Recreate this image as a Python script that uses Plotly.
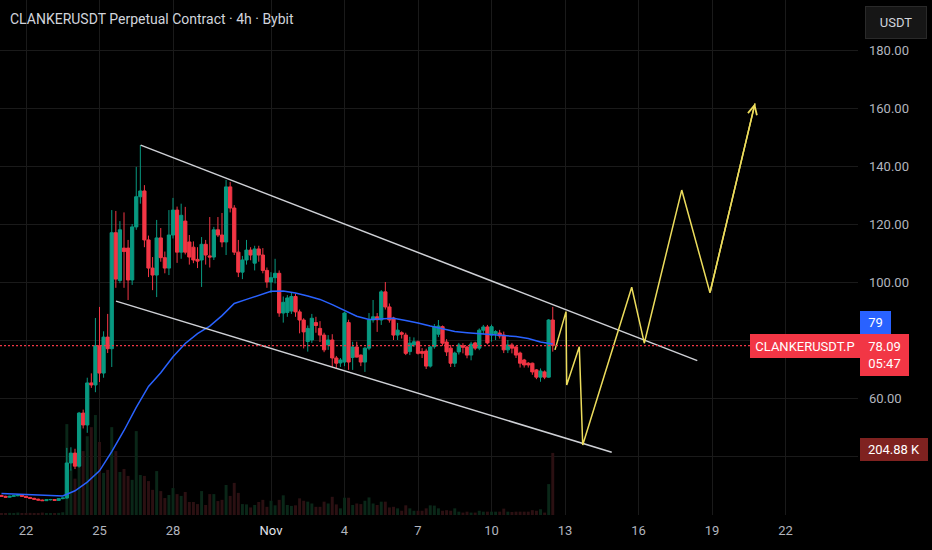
import pandas as pd
import plotly.graph_objects as go

# CLANKERUSDT perpetual, 4h candles from 21 Oct 2025
first_candle = "2025-10-21 00:00"

opens = [26.4, 26.1, 25.8, 26.1, 26.3, 26.5, 26.1, 25.7, 25.4, 25.1, 24.8, 24.6, 24.9, 25.0, 24.7, 25.3,
         25.5, 37.6, 41.0, 36.5, 54.8, 50.7, 65.2, 64.5, 78.0, 68.6, 81.0, 77.0, 117.0, 100.5, 111.7, 111.7,
         100.7, 119.0, 129.4, 131.4, 114.5, 104.8, 102.4, 115.2, 108.4, 104.8, 116.2, 124.8, 110.3, 121.0, 113.8, 112.0,
         107.8, 107.6, 113.0, 109.0, 108.6, 118.0, 116.2, 113.8, 132.8, 125.5, 110.3, 103.4, 107.6, 111.0, 106.5, 111.4,
         109.3, 104.0, 100.0, 101.5, 103.0, 89.3, 89.5, 90.0, 95.0, 89.7, 86.9, 79.5, 80.0, 86.0, 84.0, 81.7,
         78.3, 80.0, 73.8, 72.1, 72.4, 86.0, 74.0, 77.6, 74.8, 72.4, 77.2, 86.9, 88.0, 86.9, 96.6, 91.4,
         87.6, 81.7, 82.5, 81.7, 76.0, 78.3, 79.4, 76.0, 76.2, 71.0, 77.7, 82.0, 84.6, 79.3, 77.2, 72.0,
         75.9, 78.0, 77.6, 74.8, 79.0, 77.2, 83.4, 84.5, 81.7, 82.2, 82.4, 81.7, 76.6, 78.3, 77.6, 75.5,
         73.1, 72.0, 72.0, 69.7, 67.2, 69.0, 67.2, 86.9]
highs = [26.6, 26.3, 26.3, 26.5, 26.8, 26.6, 26.2, 25.9, 25.6, 25.3, 25.0, 25.0, 25.2, 25.1, 25.4, 25.7,
         42.8, 43.0, 42.5, 55.2, 56.0, 67.0, 68.5, 87.6, 91.4, 83.0, 89.0, 124.8, 124.5, 121.0, 124.0, 114.5,
         120.0, 139.7, 147.2, 133.4, 116.0, 108.6, 121.4, 118.6, 110.5, 124.8, 129.0, 126.0, 127.0, 125.9, 116.2, 114.0,
         112.0, 115.5, 114.5, 122.4, 119.0, 122.4, 123.8, 135.2, 134.5, 126.5, 114.5, 109.0, 114.5, 112.0, 112.5, 112.5,
         111.7, 105.0, 103.4, 108.0, 104.0, 95.0, 95.5, 96.5, 96.0, 90.5, 87.5, 85.0, 89.0, 88.0, 86.5, 82.5,
         81.7, 82.0, 74.5, 73.8, 89.7, 87.0, 79.4, 79.4, 75.0, 77.5, 89.3, 93.8, 89.3, 97.2, 100.0, 92.6,
         88.0, 85.9, 83.0, 82.5, 81.1, 80.9, 79.8, 77.2, 77.0, 78.0, 85.5, 86.9, 85.0, 80.3, 78.3, 76.0,
         79.0, 78.9, 78.0, 79.4, 79.4, 84.0, 85.2, 85.2, 85.3, 83.4, 83.5, 82.9, 80.0, 79.0, 78.0, 76.0,
         73.5, 72.4, 72.2, 70.0, 70.2, 69.5, 87.2, 91.4]
lows = [26.0, 25.7, 25.7, 26.0, 26.1, 26.0, 25.6, 25.3, 25.0, 24.7, 24.5, 24.5, 24.7, 24.6, 24.6, 25.1,
        25.3, 35.0, 35.5, 36.0, 49.5, 48.0, 63.5, 62.0, 65.5, 67.0, 75.5, 70.7, 98.0, 99.6, 98.0, 93.8,
        99.0, 118.0, 127.0, 112.0, 101.7, 97.2, 94.8, 107.0, 103.0, 102.4, 115.0, 106.6, 108.0, 109.5, 106.0, 106.5,
        104.8, 98.3, 106.0, 105.0, 107.6, 115.5, 112.0, 109.3, 124.0, 109.3, 101.7, 101.0, 106.0, 107.5, 104.0, 107.0,
        103.0, 98.0, 96.2, 99.5, 88.0, 86.0, 88.0, 89.0, 88.0, 82.3, 77.1, 76.0, 79.0, 82.5, 79.3, 75.8,
        76.6, 70.7, 70.0, 70.7, 71.0, 69.7, 69.7, 74.0, 71.0, 69.0, 76.5, 86.0, 82.8, 85.2, 90.5, 86.0,
        80.0, 80.0, 80.5, 74.8, 74.8, 77.6, 75.0, 73.8, 70.0, 70.5, 77.0, 81.0, 78.0, 74.5, 70.7, 70.7,
        75.0, 75.4, 73.7, 73.0, 76.5, 76.5, 82.0, 78.5, 79.4, 80.0, 80.5, 75.5, 75.5, 75.4, 73.8, 70.5,
        70.5, 70.5, 68.0, 66.5, 65.6, 66.5, 67.0, 76.0]
closes = [26.1, 25.8, 26.1, 26.3, 26.5, 26.1, 25.7, 25.4, 25.1, 24.8, 24.6, 24.9, 25.0, 24.7, 25.3, 25.5,
          37.6, 41.0, 36.5, 54.8, 50.7, 65.2, 64.5, 78.0, 68.6, 81.0, 77.0, 117.0, 101.0, 118.0, 110.5, 100.7,
          119.0, 129.4, 131.4, 114.5, 104.8, 102.4, 115.2, 108.4, 104.8, 116.2, 124.8, 110.3, 123.0, 110.3, 108.6, 107.6,
          107.2, 113.0, 109.3, 108.6, 118.0, 116.2, 113.8, 132.8, 125.5, 110.3, 103.4, 107.6, 111.0, 109.3, 111.4, 109.3,
          104.0, 100.0, 101.5, 103.0, 89.3, 93.0, 94.5, 95.0, 89.7, 86.9, 82.8, 84.0, 87.5, 85.0, 81.7, 76.6,
          80.0, 73.8, 72.0, 73.1, 89.3, 72.4, 77.6, 74.1, 72.4, 77.2, 86.9, 88.0, 87.0, 96.6, 91.4, 86.9,
          81.7, 83.4, 82.0, 75.4, 78.9, 79.4, 75.4, 75.4, 71.0, 77.6, 84.6, 84.8, 78.9, 75.9, 72.0, 75.5,
          78.3, 77.5, 74.8, 78.6, 77.2, 83.4, 84.5, 79.0, 84.6, 82.9, 81.4, 76.6, 78.3, 77.2, 74.8, 72.0,
          71.4, 71.4, 69.0, 67.2, 69.3, 67.2, 86.9, 78.09]
volumes_k = [6, 5, 7, 6, 8, 5, 6, 7, 5, 6, 8, 5, 6, 5, 7, 9,
             300, 150, 120, 280, 211, 260, 290, 330, 241, 139, 149, 290, 211, 142, 152, 129,
             116, 277, 132, 129, 112, 83, 145, 79, 56, 66, 89, 69, 63, 76, 43, 43,
             36, 79, 33, 69, 69, 46, 50, 99, 63, 106, 73, 36, 35, 25, 33, 43,
             50, 27, 47, 32, 50, 65, 33, 30, 32, 55, 47, 44, 38, 27, 27, 44,
             38, 60, 35, 22, 57, 57, 33, 38, 36, 47, 58, 38, 33, 44, 44, 25,
             27, 22, 14, 32, 22, 14, 14, 14, 22, 32, 31, 22, 14, 16, 14, 22,
             11, 8, 11, 8, 8, 14, 11, 11, 11, 11, 11, 21, 11, 10, 11, 11,
             11, 11, 16, 14, 19, 8, 102, 204.88]

# moving average, read at every third candle
ma_values = [27.1, 26.9, 26.7, 26.5, 26.3, 26.2, 28.0, 31.0, 34.9, 41.5, 48.8, 56.8, 64.0, 68.7, 74.2, 78.8,
             82.2, 84.8, 88.4, 92.6, 94.0, 95.5, 96.8, 96.9, 96.2, 95.2, 94.0, 92.2, 90.2, 88.2, 87.1, 87.4,
             87.5, 86.7, 85.9, 84.8, 83.8, 82.9, 82.5, 82.2, 82.0, 81.7, 81.2, 80.5, 79.3, 78.6]

upper_channel_x = ["2025-10-26 16:20", "2025-11-18 09:36"]
upper_channel_y = [147.2, 72.9]
lower_channel_x = ["2025-10-25 16:10", "2025-11-14 21:45"]
lower_channel_y = [93.4, 41.3]

forecast_x = ["2025-11-12 14:10", "2025-11-13 01:00", "2025-11-13 01:40", "2025-11-13 14:00",
              "2025-11-13 17:20", "2025-11-15 17:20", "2025-11-16 05:40", "2025-11-17 18:20",
              "2025-11-18 22:00", "2025-11-20 18:07"]
forecast_y = [76.6, 89.8, 64.5, 77.7, 43.8, 98.2, 78.9, 131.7, 96.3, 161.6]

date_ticks = ["2025-10-22", "2025-10-25", "2025-10-28", "2025-11-01", "2025-11-04", "2025-11-07",
              "2025-11-10", "2025-11-13", "2025-11-16", "2025-11-19", "2025-11-22"]
date_labels = ["22", "25", "28", "Nov", "4", "7", "10", "13", "16", "19", "22"]
price_ticks = [40, 60, 80, 100, 120, 140, 160, 180]
price_labels = ["", "60.00", "", "100.00", "120.00", "140.00", "160.00", "180.00"]

countdown = "05:47"
symbol = "CLANKERUSDT.P"

GREEN = "#089981"
RED = "#f23645"
YELLOW = "#ecdc5c"
PLOT_W, PLOT_H = 858, 515


def px_x(px):
    return px / PLOT_W


def px_y(py):
    return 1 - py / PLOT_H


dates = pd.date_range(first_candle, periods=len(closes), freq="4h")
vol_colors = ["#0a2718" if c >= o else "#2b1012" for o, c in zip(opens, closes)]

fig = go.Figure()
fig.add_trace(go.Bar(x=dates, y=volumes_k, marker=dict(color=vol_colors, line=dict(width=0)),
                     width=4 * 3600 * 1000 * 0.72, yaxis="y", hoverinfo="skip"))
fig.add_trace(go.Candlestick(
    x=dates, open=opens, high=highs, low=lows, close=closes, yaxis="y2",
    increasing=dict(line=dict(color=GREEN, width=1), fillcolor=GREEN),
    decreasing=dict(line=dict(color=RED, width=1), fillcolor=RED),
))
fig.add_trace(go.Scatter(x=dates[::3], y=ma_values, yaxis="y2", mode="lines",
                         line=dict(color="#2962ff", width=1.5)))
for cx, cy in [(upper_channel_x, upper_channel_y), (lower_channel_x, lower_channel_y)]:
    fig.add_trace(go.Scatter(x=cx, y=cy, yaxis="y2", mode="lines",
                             line=dict(color="#cfd1d6", width=1.5)))
fig.add_trace(go.Scatter(x=forecast_x, y=forecast_y, yaxis="y2", mode="lines",
                         line=dict(color=YELLOW, width=1.5)))

ticktext = ['<span style="color:#e0e3eb">%s</span>' % t if t == "Nov" else t for t in date_labels]

fig.update_layout(
    width=932, height=550,
    margin=dict(l=0, r=932 - PLOT_W, t=0, b=550 - PLOT_H),
    paper_bgcolor="#000000", plot_bgcolor="#000000",
    font=dict(family="Roboto, 'Noto Sans', sans-serif", size=13, color="#b2b5be"),
    showlegend=False,
    boxgap=0.12, boxgroupgap=0.1,
    xaxis=dict(type="date", range=["2025-10-20 22:32", "2025-11-24 23:00"],
               rangeslider=dict(visible=False), tickvals=date_ticks, ticktext=ticktext,
               showgrid=True, gridcolor="#1a1a1a", zeroline=False, ticks="", ticklabelstandoff=6),
    yaxis=dict(range=[0, 1700], visible=False),
    yaxis2=dict(overlaying="y", side="right", range=[19.66, 197.24],
                tickvals=price_ticks, ticktext=price_labels, showgrid=True, gridcolor="#1a1a1a",
                zeroline=False, ticks="", ticklabelstandoff=10),
)

# last-price dotted line
fig.add_shape(type="line", xref="paper", x0=0, x1=px_x(750), yref="y2", y0=closes[-1], y1=closes[-1],
              line=dict(color=RED, width=1.2, dash="2px,2px"))

# arrow head of the projected path
fig.add_annotation(x=forecast_x[-1], y=forecast_y[-1], ax=forecast_x[-2], ay=forecast_y[-2],
                   xref="x", yref="y2", axref="x", ayref="y2", text="", showarrow=True,
                   arrowhead=5, arrowsize=1.2, arrowwidth=1.5, arrowcolor=YELLOW, standoff=0)

fig.add_annotation(text="CLANKERUSDT Perpetual Contract · 4h · Bybit", xref="paper", yref="paper",
                   x=px_x(8), y=px_y(19), xanchor="left", yanchor="middle", showarrow=False,
                   font=dict(size=14, color="#d1d4dc"))


def axis_box(text, cx, cy, w, h, bg, color="#ffffff", border=None):
    fig.add_annotation(text=text, xref="paper", yref="paper", x=px_x(cx), y=px_y(cy),
                       xanchor="center", yanchor="middle", showarrow=False, width=w, height=h,
                       bgcolor=bg, borderpad=0, bordercolor=border or bg, borderwidth=1,
                       font=dict(size=13, color=color))


axis_box("USDT", 896, 22.5, 60, 31, "#161616", color="#d1d4dc", border="#2a2a2a")
axis_box(str(round(ma_values[-1])), 875.5, 322.5, 29, 21, "#2962ff")
axis_box(f"{closes[-1]:.2f}<br>{countdown}", 884.5, 354.5, 47, 40, RED)
axis_box(symbol, 804.5, 345.5, 108, 22, RED)
axis_box(f"{volumes_k[-1]:.2f} K", 894, 449.5, 66, 21, "#7f2220")

# page body has a default 8px margin; drop it so the chart fills the window
fig.write_html("out.html", config={"displayModeBar": False},
               post_script="document.body.style.margin='0';document.body.style.background='#000';")
